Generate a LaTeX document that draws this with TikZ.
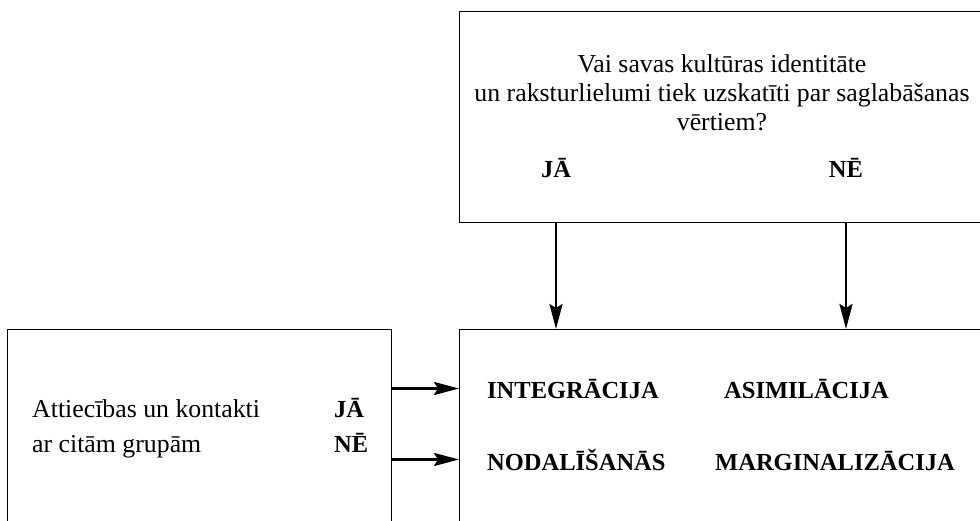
\documentclass[tikz,border=0pt]{standalone}
\usepackage{fontspec}
\setmainfont{Liberation Serif}
\usetikzlibrary{arrows.meta}
\usetikzlibrary{positioning}
\tikzset{
  frame/.style={draw,line width=1.4pt,anchor=north west,inner sep=0pt},
  txt/.style={inner sep=0pt,font=\fontsize{25.8}{29}\selectfont},
  btxt/.style={anchor=base west,inner sep=0pt,font=\fontsize{24.5}{29}\selectfont\bfseries},
  arr/.style={line width=2.8pt,-{Stealth[length=25pt,width=13pt,inset=4pt]}},
}

\begin{document}
\begin{tikzpicture}[x=1pt,y=-1pt]
		  \useasboundingbox (0,0) rectangle (980,520);
		  \clip (0,0) rectangle (980,520);
		  %BOX QUESTION
		  \node[frame,minimum width=560pt,minimum height=211pt] (Q) at (459,11) {};
		  \node[txt,align=center,anchor=base] (qtext) at (722,130) {Vai savas kultūras identitāte\\un raksturlielumi tiek uzskatīti par saglabāšanas\\vērtiem?};
		  \node[btxt,anchor=base] (qja) at (556,177) {JĀ};
		  \node[btxt,anchor=base] (qne) at (846,177) {NĒ};
		  %BOX CONTACTS
		  \node[frame,minimum width=384pt,minimum height=220pt] (C) at (7,329) {};
		  \node[txt,align=left,anchor=base west,font=\fontsize{25.8}{35}\selectfont] (ctext) at (32,452) {Attiecības un kontakti\\ar citām grupām};
		  \node[btxt] (cja) at (334,417) {JĀ};
		  \node[btxt] (cne) at (334,452) {NĒ};
		  %BOX RESULTS
		  \node[frame,minimum width=560pt,minimum height=220pt] (R) at (459,329) {};
		  \node[btxt] (integ) at (487,398) {INTEGRĀCIJA};
		  \node[btxt] (asim) at (724,398) {ASIMILĀCIJA};
		  \node[btxt] (nodal) at (487,470) {NODALĪŠANĀS};
		  \node[btxt] (marg) at (715,470) {MARGINALIZĀCIJA};
		  %ARROWS DOWN
		  \draw[arr] (Q.south -| qja) -- (R.north -| qja);
		  \draw[arr] (Q.south -| qne) -- (R.north -| qne);
		  %ARROWS RIGHT
		  \draw[arr] (C.east |- integ.center) -- (R.west |- integ.center);
		  \draw[arr] (C.east |- nodal.center) -- (R.west |- nodal.center);
\end{tikzpicture}
\end{document}
